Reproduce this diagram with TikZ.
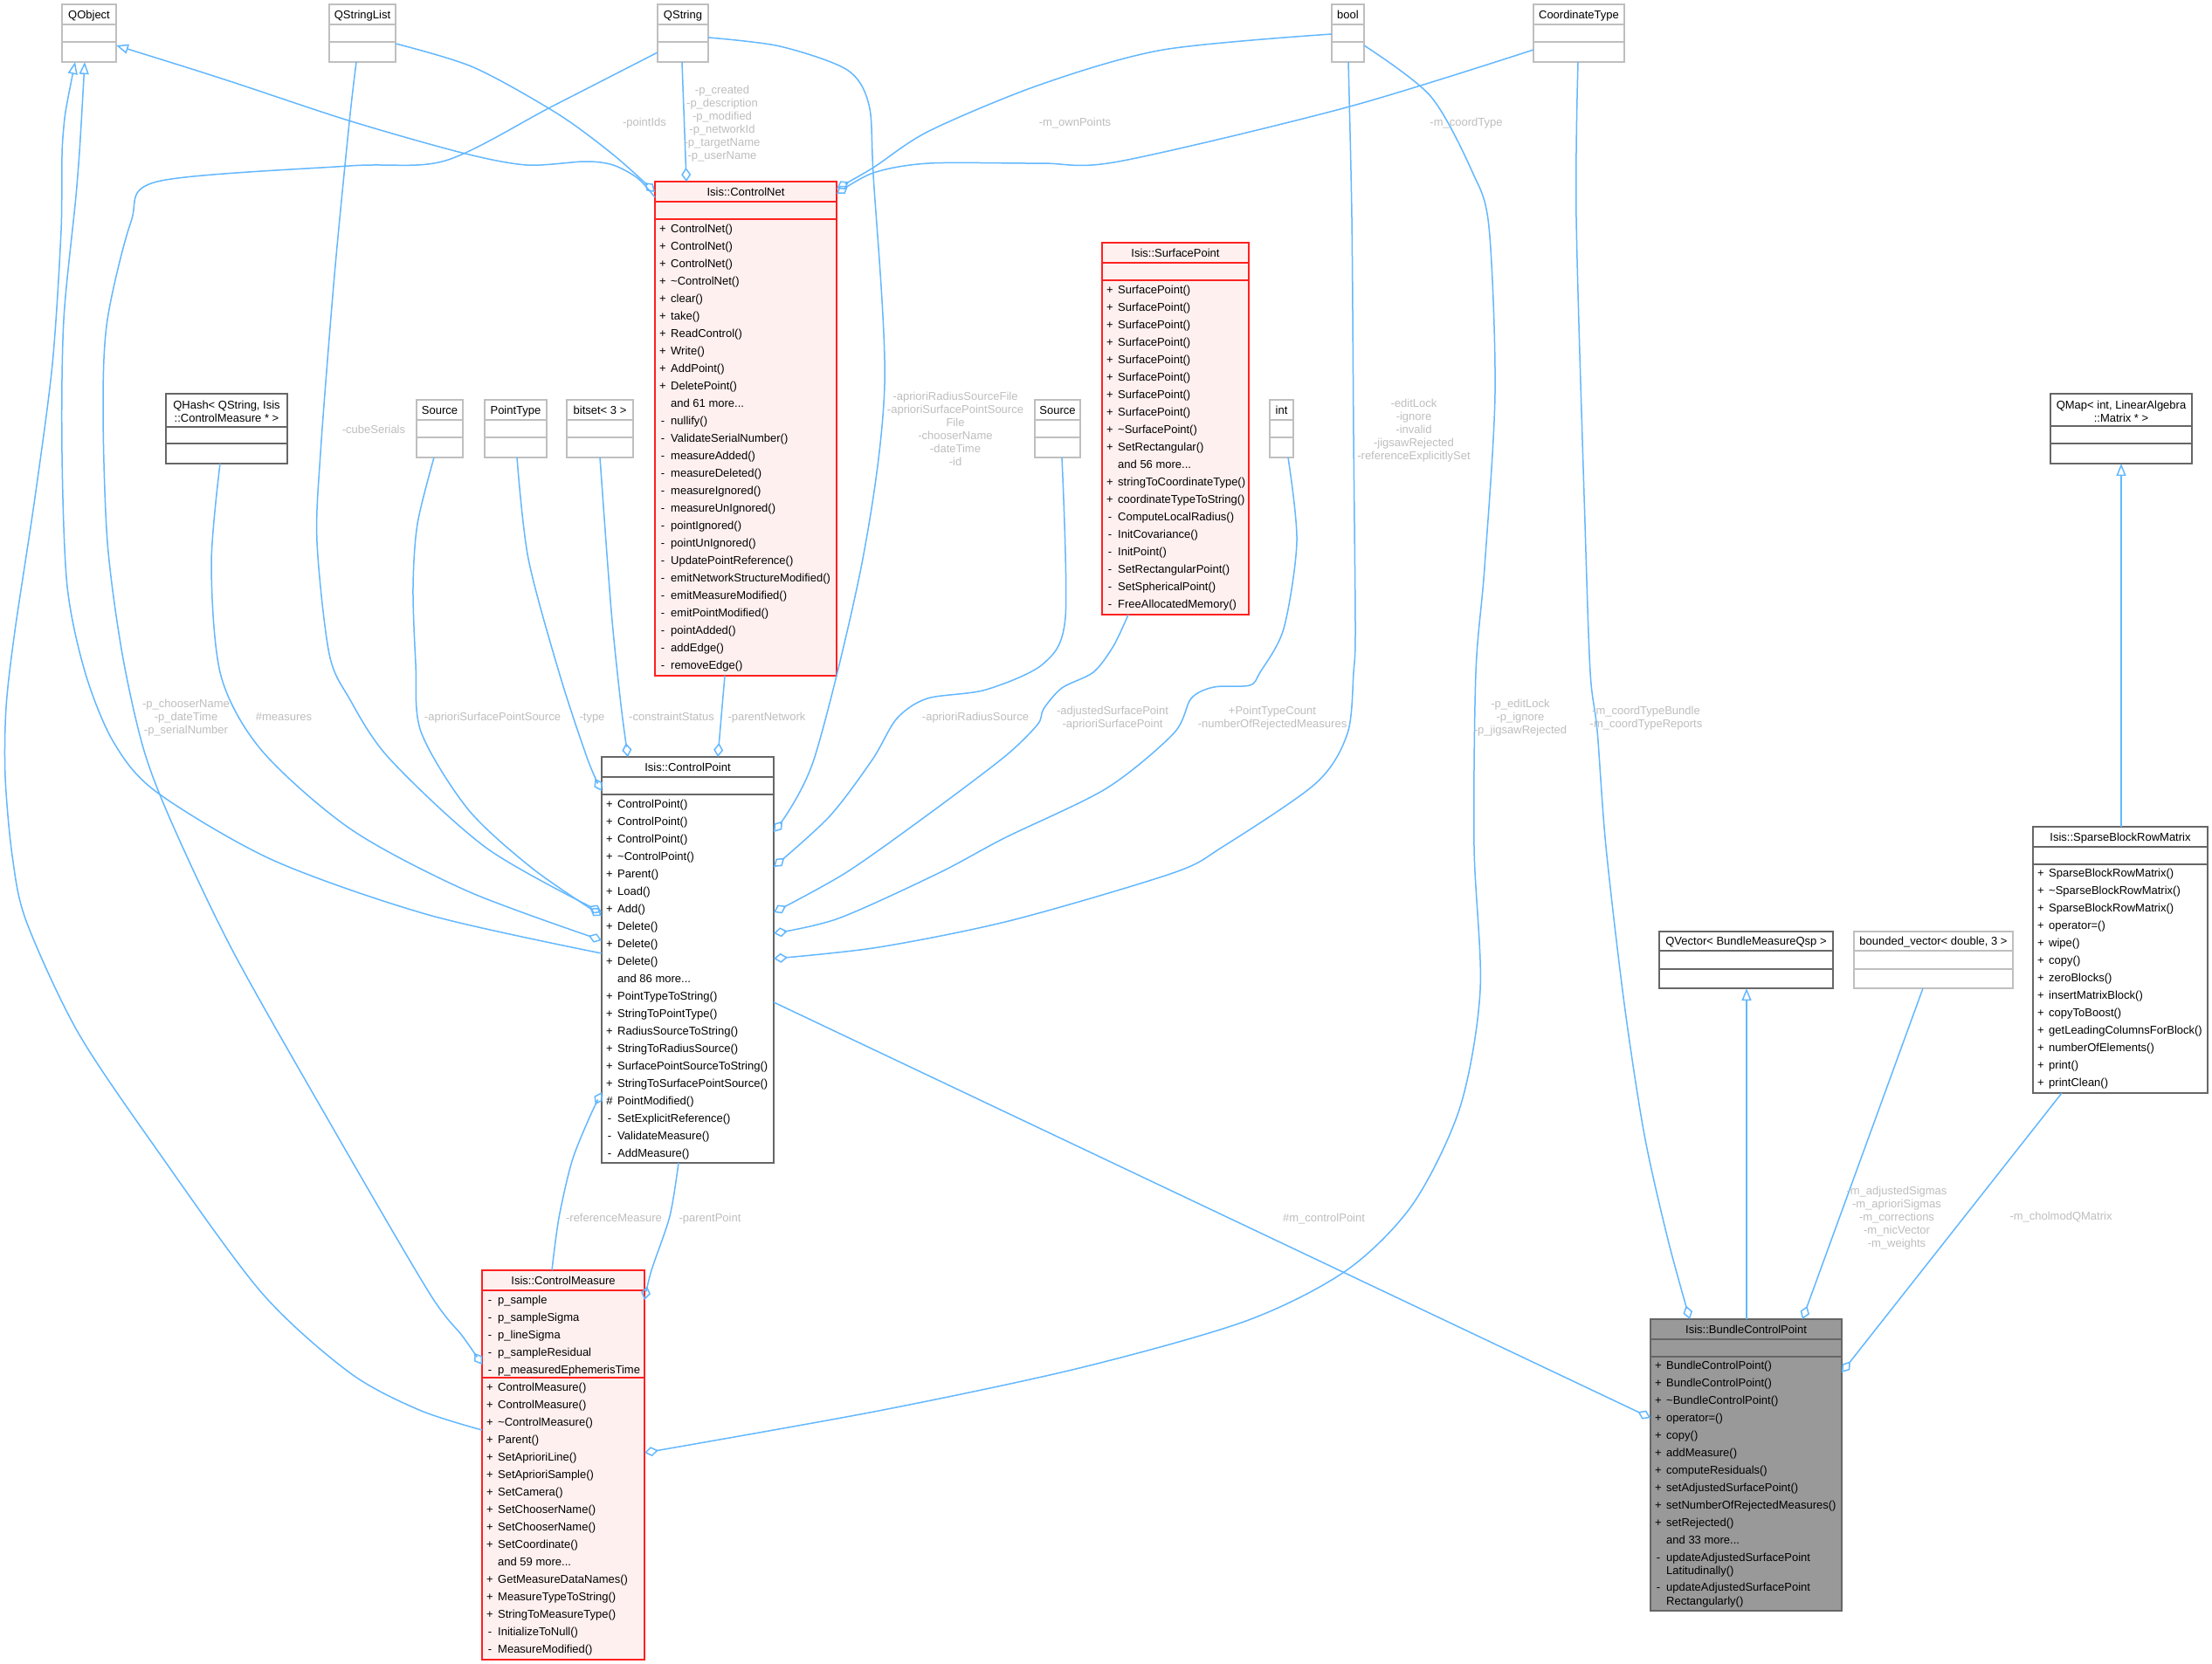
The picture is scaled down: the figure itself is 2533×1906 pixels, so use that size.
\documentclass[tikz,border=0pt]{standalone}
\usepackage{fontspec}
\setmainfont{Liberation Sans}
\usetikzlibrary{arrows.meta,calc}
\definecolor{doxblue}{HTML}{63B8FF}
\definecolor{labelgrey}{HTML}{BEBEBE}
\definecolor{lightgrey}{HTML}{BFBFBF}
\definecolor{darkgrey}{HTML}{666666}
\definecolor{doxred}{HTML}{FF2020}
\definecolor{doxpink}{HTML}{FFF0F0}
\definecolor{focusgrey}{HTML}{999999}
\newcommand\threedots{...}

% name, style, divider colour, left, right, top, d1, d2, bottom
\newcommand\classbox[9]{%
  \node[#2, minimum width={(#5-#4)*1pt}, minimum height={(#9-#6)*1pt}] (#1) at (#4,#6) {};
  \draw[line width=2pt, #3] (#4,#7) -- (#5,#7) (#4,#8) -- (#5,#8);
}
% left, first row centre, prefix, list
\newcommand\members[4]{%
  \foreach \sy/\tx [count=\i from 0] in {#4} {
    \node[mtxt, anchor=base] (#3s\i) at (#1+9, #2+20*\i+4.6) {\sy};
    \node[mtxt, anchor=base west] (#3t\i) at (#1+18, #2+20*\i+4.6) {\tx};
  }}
% name, x, first line centre, list
\newcommand\elabel[4]{%
  \foreach \ln [count=\i from 0] in {#4} {
    \node[lbl, anchor=base] (#1\i) at (#2, #3+15*\i+4.6) {\ln};
  }}

\begin{document}
\begin{tikzpicture}[x=1pt,y=-1pt,
  cbox/.style={rectangle, inner sep=0pt, outer sep=0pt, line width=2pt, anchor=north west},
  lightbox/.style={cbox, draw=lightgrey, fill=white},
  darkbox/.style={cbox, draw=darkgrey, fill=white},
  redbox/.style={cbox, draw=doxred, fill=doxpink},
  focusbox/.style={cbox, draw=darkgrey, fill=focusgrey},
  mtxt/.style={inner sep=0pt, font=\fontsize{13}{15}\selectfont, text=black},
  lbl/.style={inner sep=0pt, font=\fontsize{13}{15}\selectfont, text=labelgrey},
  conn/.style={draw=doxblue, line width=1.5pt},
  agg/.style={conn, -{Diamond[open, length=16pt, width=11pt]}},
  inh/.style={conn, {Triangle[open, length=14pt, width=11pt]}-}
]
\fill[white] (0,0) rectangle (2533,1906);
\useasboundingbox (0,0) rectangle (2533,1906);

% ---------- boxes ----------
\classbox{qobject}{lightbox}{lightgrey}{71}{133}{5}{28}{48}{71}
\node[mtxt, anchor=base] (qobjectT) at (102,21.1) {QObject};
\classbox{ql}{lightbox}{lightgrey}{377}{453}{5}{28}{48}{71}
\node[mtxt, anchor=base] (qlT) at (415,21.1) {QStringList};
\classbox{qs}{lightbox}{lightgrey}{753}{811}{5}{28}{48}{71}
\node[mtxt, anchor=base] (qsT) at (782,21.1) {QString};
\classbox{bool}{lightbox}{lightgrey}{1525}{1562}{5}{28}{48}{71}
\node[mtxt, anchor=base] (boolT) at (1543.5,21.1) {bool};
\classbox{ct}{lightbox}{lightgrey}{1756}{1860}{5}{28}{48}{71}
\node[mtxt, anchor=base] (ctT) at (1808,21.1) {CoordinateType};

\classbox{qhash}{darkbox}{darkgrey}{190}{329}{451}{489}{508}{531}
\node[mtxt, anchor=base] (qhashT1) at (259.5,468.6) {QHash< QString, Isis};
\node[mtxt, anchor=base] (qhashT2) at (259.5,483.6) {::ControlMeasure * >};
\classbox{src1}{lightbox}{lightgrey}{477}{530}{458}{481}{501}{524}
\node[mtxt, anchor=base] (src1T) at (503.5,474.1) {Source};
\classbox{pt}{lightbox}{lightgrey}{555}{626}{458}{481}{501}{524}
\node[mtxt, anchor=base] (ptT) at (590.5,474.1) {PointType};
\classbox{bits}{lightbox}{lightgrey}{649}{725}{458}{481}{501}{524}
\node[mtxt, anchor=base] (bitsT) at (687,474.1) {bitset< 3 >};
\classbox{src2}{lightbox}{lightgrey}{1185}{1237}{458}{481}{501}{524}
\node[mtxt, anchor=base] (src2T) at (1211,474.1) {Source};
\classbox{int}{lightbox}{lightgrey}{1454}{1481}{458}{481}{501}{524}
\node[mtxt, anchor=base] (intT) at (1467.5,474.1) {int};
\classbox{qmap}{darkbox}{darkgrey}{2348}{2510}{451}{488}{508}{531}
\node[mtxt, anchor=base] (qmapT1) at (2429,468.6) {QMap< int, LinearAlgebra};
\node[mtxt, anchor=base] (qmapT2) at (2429,483.6) {::Matrix * >};

\classbox{cn}{redbox}{doxred}{750}{958}{208}{231}{251}{774}
\node[mtxt, anchor=base] (cnT) at (854,224.1) {Isis::ControlNet};
\members{750}{262}{cnm}{+/ControlNet(),+/ControlNet(),+/ControlNet(),+/\textasciitilde ControlNet(),+/clear(),+/take(),+/ReadControl(),+/Write(),+/AddPoint(),+/DeletePoint(),/and 61 more\threedots,-/nullify(),-/ValidateSerialNumber(),-/measureAdded(),-/measureDeleted(),-/measureIgnored(),-/measureUnIgnored(),-/pointIgnored(),-/pointUnIgnored(),-/UpdatePointReference(),-/emitNetworkStructureModified(),-/emitMeasureModified(),-/emitPointModified(),-/pointAdded(),-/addEdge(),-/removeEdge()}

\classbox{sp}{redbox}{doxred}{1262}{1430}{278}{301}{321}{704}
\node[mtxt, anchor=base] (spT) at (1346,294.1) {Isis::SurfacePoint};
\members{1262}{332}{spm}{+/SurfacePoint(),+/SurfacePoint(),+/SurfacePoint(),+/SurfacePoint(),+/SurfacePoint(),+/SurfacePoint(),+/SurfacePoint(),+/SurfacePoint(),+/\textasciitilde SurfacePoint(),+/SetRectangular(),/and 56 more\threedots,+/stringToCoordinateType(),+/coordinateTypeToString(),-/ComputeLocalRadius(),-/InitCovariance(),-/InitPoint(),-/SetRectangularPoint(),-/SetSphericalPoint(),-/FreeAllocatedMemory()}

\classbox{cp}{darkbox}{darkgrey}{689}{886}{867}{890}{910}{1332}
\node[mtxt, anchor=base] (cpT) at (787.5,883.1) {Isis::ControlPoint};
\members{689}{921}{cpm}{+/ControlPoint(),+/ControlPoint(),+/ControlPoint(),+/\textasciitilde ControlPoint(),+/Parent(),+/Load(),+/Add(),+/Delete(),+/Delete(),+/Delete(),/and 86 more\threedots,+/PointTypeToString(),+/StringToPointType(),+/RadiusSourceToString(),+/StringToRadiusSource(),+/SurfacePointSourceToString(),+/StringToSurfacePointSource(),\#/PointModified(),-/SetExplicitReference(),-/ValidateMeasure(),-/AddMeasure()}

\classbox{qvec}{darkbox}{darkgrey}{1900}{2099}{1067}{1089}{1110}{1132}
\node[mtxt, anchor=base] (qvecT) at (1999.5,1082.6) {QVector< BundleMeasureQsp >};
\classbox{bvec}{lightbox}{lightgrey}{2123}{2305}{1067}{1089}{1110}{1132}
\node[mtxt, anchor=base] (bvecT) at (2214,1082.6) {bounded\_vector< double, 3 >};

\classbox{sbrm}{darkbox}{darkgrey}{2328}{2528}{947}{970}{990}{1252}
\node[mtxt, anchor=base] (sbrmT) at (2428,963.1) {Isis::SparseBlockRowMatrix};
\members{2328}{1000}{sbm}{+/SparseBlockRowMatrix(),+/\textasciitilde SparseBlockRowMatrix(),+/SparseBlockRowMatrix(),+/operator=(),+/wipe(),+/copy(),+/zeroBlocks(),+/insertMatrixBlock(),+/copyToBoost(),+/getLeadingColumnsForBlock(),+/numberOfElements(),+/print(),+/printClean()}

\classbox{cm}{redbox}{doxred}{552}{738}{1455}{1478}{1578}{1901}
\node[mtxt, anchor=base] (cmT) at (645,1471.1) {Isis::ControlMeasure};
\members{552}{1489}{cma}{-/p\_sample,-/p\_sampleSigma,-/p\_lineSigma,-/p\_sampleResidual,-/p\_measuredEphemerisTime}
\members{552}{1589}{cmm}{+/ControlMeasure(),+/ControlMeasure(),+/\textasciitilde ControlMeasure(),+/Parent(),+/SetAprioriLine(),+/SetAprioriSample(),+/SetCamera(),+/SetChooserName(),+/SetChooserName(),+/SetCoordinate(),/and 59 more\threedots,+/GetMeasureDataNames(),+/MeasureTypeToString(),+/StringToMeasureType(),-/InitializeToNull(),-/MeasureModified()}

\classbox{bcp}{focusbox}{darkgrey}{1890}{2109}{1511}{1534}{1554}{1845}
\node[mtxt, anchor=base] (bcpT) at (1999.5,1527.1) {Isis::BundleControlPoint};
\members{1890}{1564}{bcm}{+/BundleControlPoint(),+/BundleControlPoint(),+/\textasciitilde BundleControlPoint(),+/operator=(),+/copy(),+/addMeasure(),+/computeResiduals(),+/setAdjustedSurfacePoint(),+/setNumberOfRejectedMeasures(),+/setRejected(),/and 33 more\threedots}
\node[mtxt, anchor=base] (bcmx1s) at (1899,1788.6) {-};
\node[mtxt, anchor=base west] (bcmx1a) at (1908,1788.6) {updateAdjustedSurfacePoint};
\node[mtxt, anchor=base west] (bcmx1b) at (1908,1803.6) {Latitudinally()};
\node[mtxt, anchor=base] (bcmx2s) at (1899,1822.6) {-};
\node[mtxt, anchor=base west] (bcmx2a) at (1908,1822.6) {updateAdjustedSurfacePoint};
\node[mtxt, anchor=base west] (bcmx2b) at (1908,1838.6) {Rectangularly()};

% ---------- connectors ----------
\draw[inh] plot[smooth] coordinates {(qobject.east |- 0,52) (260,92) (399,138) (529,175) (603,189) (670,185) (702,189) (730,204) (cn.west |- 0,226)};
\draw[agg] plot[smooth] coordinates {(ql.east |- 0,50) (542,77) (638,130) (702,177) (cn.west |- 0,220)};
\draw[agg] (781,0 |- qs.south) -- (786,0 |- cn.north);
\draw[agg] plot[smooth] coordinates {(qs.east |- 0,43) (893,53) (970,80) (995,120) (1000,200) (1013,440) (988,640) (932,870) (cp.east |- 0,953)};
\draw[agg] plot[smooth] coordinates {(bool.west |- 0,39) (1332,57) (1191,97) (1064,150) (1000,192) (cn.east |- 0,216)};
\draw[agg] plot[smooth] coordinates {(ct.west |- 0,57) (1542,123) (1281,185) (1191,187) (1064,187) (1000,198) (cn.east |- 0,222)};
\draw[inh] plot[smooth] coordinates {(97,0 |- qobject.south) (88,213) (73,366) (71,519) (77,672) (98,772) (130,850) (179,907) (312,985) (491,1048) (cp.west |- 0,1092)};
\draw[inh] plot[smooth] coordinates {(86,0 |- qobject.south) (72,157) (70,264) (60,417) (40,570) (17,723) (7,810) (6,890) (14,980) (30,1055) (89,1182) (179,1316) (299,1480) (400,1572) (480,1615) (cm.west |- 0,1638)};
\draw[agg] plot[smooth] coordinates {(qs.west |- 0,60) (632,122) (510,184) (400,190) (180,208) (150,254) (123,366) (118,468) (123,621) (140,749) (165,860) (200,950) (268,1092) (380,1290) (491,1480) (530,1531) (cm.west |- 0,1563)};
\draw[agg] plot[smooth] coordinates {(408,0 |- ql.south) (400,140) (383,315) (367,519) (363,621) (377,749) (400,800) (446,869) (558,972) (cp.west |- 0,1045)};
\draw[agg] plot[smooth] coordinates {(252,0 |- qhash.south) (242,647) (253,774) (300,860) (402,950) (536,1021) (cp.west |- 0,1077)};
\draw[agg] plot[smooth] coordinates {(497,0 |- src1.south) (478,600) (473,673) (476,760) (482,838) (536,927) (610,995) (cp.west |- 0,1049)};
\draw[agg] plot[smooth] coordinates {(592,0 |- pt.south) (605,640) (641,773) (673,870) (cp.west |- 0,906)};
\draw[agg] plot[smooth] coordinates {(687,0 |- bits.south) (700,700) (711,807) (719,0 |- cp.north)};
\draw[agg] (830,0 |- cn.south) -- (822,0 |- cp.north);
\draw[agg] plot[smooth] coordinates {(1216,0 |- src2.south) (1220,707) (1195,760) (1129,790) (1062,800) (1027,823) (999,870) (950,935) (cp.east |- 0,993)};
\draw[agg] plot[smooth] coordinates {(1292,0 |- sp.south) (1275,740) (1252,770) (1216,788) (1195,812) (1188,830) (1150,867) (1060,935) (968,1000) (cp.east |- 0,1045)};
\draw[agg] plot[smooth] coordinates {(1475,0 |- int.south) (1485,620) (1470,720) (1443,770) (1431,785) (1390,787) (1364,800) (1344,840) (1267,903) (1150,960) (1075,1000) (960,1052) (cp.east |- 0,1069)};
\draw[agg] plot[smooth] coordinates {(1544,0 |- bool.south) (1548,250) (1550,500) (1552,720) (1550,770) (1543,840) (1507,897) (1400,970) (1343,1000) (1159,1054) (1006,1085) (cp.east |- 0,1098)};
\draw[agg] (cp.east |- 0,1148) -- (bcp.west |- 0,1624);
\draw[agg] plot[smooth] coordinates {(bool.east |- 0,52) (1638,110) (1686,197) (1705,260) (1712,450) (1700,650) (1690,770) (1688,970) (1695,1134) (1672,1268) (1618,1379) (1542,1455) (1427,1513) (1236,1567) (1006,1616) (cm.east |- 0,1664)};
\draw[agg] plot[smooth] coordinates {(632,0 |- cm.north) (640,1395) (655,1330) (675,1280) (cp.west |- 0,1251)};
\draw[agg] plot[smooth] coordinates {(777,0 |- cp.south) (767,1393) (746,1455) (cm.east |- 0,1489)};
\draw[agg] plot[smooth] coordinates {(1807,0 |- ct.south) (1805,250) (1815,600) (1821,770) (1829,837) (1839,970) (1860,1150) (1883,1300) (1910,1420) (1935,0 |- bcp.north)};
\draw[inh] (2000,0 |- qvec.south) -- (2000,0 |- bcp.north);
\draw[agg] (2202,0 |- bvec.south) -- (2064,0 |- bcp.north);
\draw[agg] (2361,0 |- sbrm.south) -- (bcp.east |- 0,1572);
\draw[inh] (2429,0 |- qmap.south) -- (2429,0 |- sbrm.north);

% ---------- connector labels ----------
\elabel{la}{738}{140}{-pointIds}
\elabel{lb}{827}{103}{-p\_created,-p\_description,-p\_modified,-p\_networkId,-p\_targetName,-p\_userName}
\elabel{lc}{1231}{140}{-m\_ownPoints}
\elabel{ld}{1679}{140}{-m\_coordType}
\elabel{le}{428}{492}{-cubeSerials}
\elabel{lf}{1094}{454}{-aprioriRadiusSourceFile,-aprioriSurfacePointSource,File,-chooserName,-dateTime,-id}
\elabel{lg}{1619}{462}{-editLock,-ignore,-invalid,-jigsawRejected,-referenceExplicitlySet}
\elabel{lh}{213}{806}{-p\_chooserName,-p\_dateTime,-p\_serialNumber}
\elabel{li}{325}{821}{\#measures}
\elabel{lj}{564}{821}{-aprioriSurfacePointSource}
\elabel{lk}{678}{821}{-type}
\elabel{ll}{769}{821}{-constraintStatus}
\elabel{lm}{878}{821}{-parentNetwork}
\elabel{ln}{1117}{821}{-aprioriRadiusSource}
\elabel{lo}{1274}{813.5}{-adjustedSurfacePoint,-aprioriSurfacePoint}
\elabel{lp}{1457}{813.5}{+PointTypeCount,-numberOfRejectedMeasures}
\elabel{lq}{1741}{806}{-p\_editLock,-p\_ignore,-p\_jigsawRejected}
\elabel{lr}{1885}{813.5}{-m\_coordTypeBundle,-m\_coordTypeReports}
\elabel{ls}{703}{1395}{-referenceMeasure}
\elabel{lt}{813}{1395}{-parentPoint}
\elabel{lu}{1516}{1395}{\#m\_controlPoint}
\elabel{lv}{2172}{1364}{-m\_adjustedSigmas,-m\_aprioriSigmas,-m\_corrections,-m\_nicVector,-m\_weights}
\elabel{lw}{2360}{1393}{-m\_cholmodQMatrix}
\end{tikzpicture}
\end{document}
